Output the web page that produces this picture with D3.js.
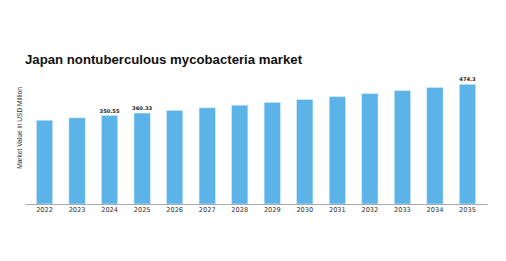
<!DOCTYPE html>
<html>
<head>
<meta charset="utf-8">
<script src="https://cdn.jsdelivr.net/npm/d3@7"></script>
<style>
	body { margin: 0; background: #fff; }
	svg { display: block; }
</style>
</head>
<body>
<div id="chart"></div>
<script>
var years = ["2022", "2023", "2024", "2025", "2026", "2027", "2028", "2029", "2030", "2031", "2032", "2033", "2034", "2035"];
var values = [332.0, 341.2, 350.55, 360.33, 370.5, 381.0, 391.5, 402.5, 413.5, 425.0, 437.0, 449.0, 461.5, 474.3];
var labelled = ["2024", "2025", "2035"]; // bars that carry a value label

var W = 506, H = 261;
var margin = { top: 78, right: 19, bottom: 57, left: 25 },
	width = W - margin.left - margin.right,
	height = H - margin.top - margin.bottom;

var svg = d3.select("#chart").append("svg")
	.attr("width", W)
	.attr("height", H);

svg.append("text")
	.attr("x", 25)
	.attr("y", 63.5)
	.style("font-family", "Liberation Sans, Arial, sans-serif")
	.style("font-weight", "bold")
	.style("font-size", "13.2px")
	.style("fill", "#111")
	.text("Japan nontuberculous mycobacteria market");

svg.append("text")
	.attr("transform", "translate(21.5," + 128 + ") rotate(-90)")
	.style("text-anchor", "middle")
	.style("font-family", "Liberation Sans, Arial, sans-serif")
	.style("font-size", "6.6px")
	.style("fill", "#333")
	.text("Market Value in USD Million");

var g = svg.append("g")
	.attr("transform", "translate(" + margin.left + "," + margin.top + ")");

var x = d3.scaleBand()
	.domain(years)
	.range([0, width])
	.paddingInner(0.5)
	.paddingOuter(0.35);

var y = d3.scaleLinear()
	.domain([0, 500])
	.range([height, height - 126.2]);

g.selectAll(".bar")
	.data(values)
	.enter().append("rect")
	.attr("class", "bar")
	.attr("x", function(d, i) { return x(years[i]); })
	.attr("width", x.bandwidth())
	.attr("y", function(d) { return y(d); })
	.attr("height", function(d) { return height - y(d); })
	.style("fill", "#5BB3E8")
	.style("stroke", "#cfe9f8")
	.style("stroke-width", 0.6);

g.selectAll(".val")
	.data(values.filter(function(d, i) { return labelled.indexOf(years[i]) >= 0; }))
	.enter().append("text")
	.attr("class", "val")
	.attr("x", function(d) { return x(years[values.indexOf(d)]) + x.bandwidth() / 2; })
	.attr("y", function(d) { return y(d) - 3; })
	.style("text-anchor", "middle")
	.style("font-family", "DejaVu Sans, sans-serif")
	.style("font-weight", "bold")
	.style("font-size", "5.2px")
	.style("fill", "#222")
	.text(function(d) { return d; });

var xAxis = d3.axisBottom(x).tickSize(0).tickPadding(3.5);

var ax = g.append("g")
	.attr("transform", "translate(0," + height + ")")
	.call(xAxis);
ax.select(".domain").attr("stroke", "#aaa").attr("stroke-width", 1);
ax.selectAll("text")
	.style("font-family", "DejaVu Sans, sans-serif")
	.style("font-size", "6.6px")
	.style("fill", "#333");
</script>
</body>
</html>
